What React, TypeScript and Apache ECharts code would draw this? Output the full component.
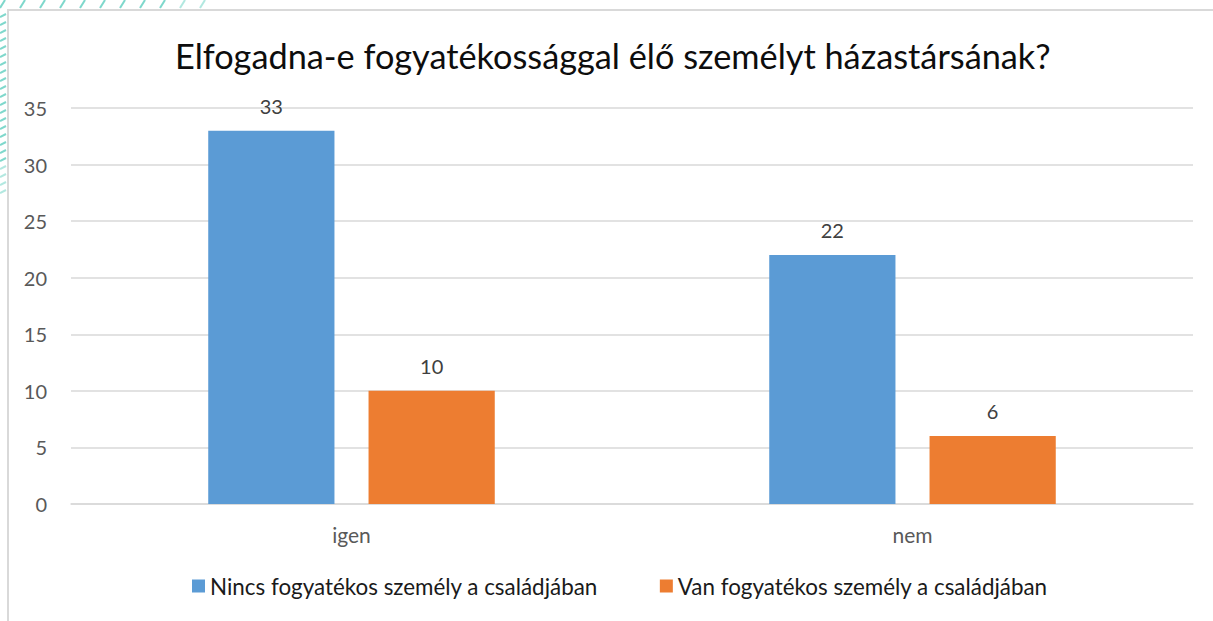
import React, { useEffect, useRef } from "react";
import * as echarts from "echarts";

const categories = ["igen", "nem"];
const seriesNames = [
  "Nincs fogyatékos személy a családjában",
  "Van fogyatékos személy a családjában",
];
const noDisabled = [33, 22];
const withDisabled = [10, 6];
const yTicks = { min: 0, max: 35, interval: 5 };
const titleText = "Elfogadna-e fogyatékossággal élő személyt házastársának?";

const FONT = "Lato, 'Noto Sans', sans-serif";

function buildHatch() {
  const els: any[] = [];
  const color = "#7fd8cc";
  for (let x = 0; x < 215; x += 20) {
    els.push({
      type: "line",
      shape: { x1: x, y1: 8, x2: x + 5, y2: 0 },
      style: { stroke: color, lineWidth: 2, opacity: x > 170 ? 0.6 : 1 },
      silent: true,
    });
  }
  for (let y = 14; y < 195; y += 8) {
    els.push({
      type: "line",
      shape: { x1: 0, y1: y + 3, x2: 6, y2: y },
      style: { stroke: color, lineWidth: 2, opacity: y > 160 ? 0.6 : 1 },
      silent: true,
    });
  }
  return els;
}

export default function App() {
  const ref = useRef<HTMLDivElement>(null);
  useEffect(() => {
    if (!ref.current) return;
    const chart = echarts.init(ref.current, undefined, { renderer: "svg" });
    const labelStyle = {
      show: true,
      position: "top" as const,
      distance: 15,
      fontSize: 20,
      color: "#404040",
      fontFamily: FONT,
    };
    chart.setOption({
      animation: false,
      backgroundColor: "#ffffff",
      title: {
        text: titleText,
        left: 170,
        top: 33,
        textStyle: {
          fontSize: 34.3,
          fontWeight: "normal",
          color: "#0d0d0d",
          fontFamily: FONT,
        },
      },
      graphic: [
        {
          type: "rect",
          shape: { x: 8, y: 10, width: 1220, height: 630 },
          style: { fill: "none", stroke: "#d9d9d9", lineWidth: 2 },
          silent: true,
          z: -1,
        },
        ...buildHatch(),
      ],
      legend: {
        bottom: 19,
        left: 187,
        itemWidth: 13,
        itemHeight: 13,
        itemGap: 62,
        icon: "rect",
        textStyle: { fontSize: 22.4, color: "#1a1a1a", fontFamily: FONT },
        data: seriesNames,
      },
      grid: { left: 71, right: 20, top: 108, bottom: 117, containLabel: false },
      xAxis: {
        type: "category",
        data: categories,
        axisLine: { lineStyle: { color: "#d9d9d9", width: 1.5 } },
        axisTick: { show: false },
        axisLabel: {
          fontSize: 21,
          color: "#595959",
          margin: 20,
          fontFamily: FONT,
        },
      },
      yAxis: {
        type: "value",
        min: yTicks.min,
        max: yTicks.max,
        interval: yTicks.interval,
        axisLine: { show: false },
        axisTick: { show: false },
        splitLine: { lineStyle: { color: "#d9d9d9", width: 1.5 } },
        axisLabel: {
          fontSize: 20,
          color: "#595959",
          margin: 24,
          fontFamily: FONT,
        },
      },
      series: [
        {
          name: seriesNames[0],
          type: "bar",
          data: noDisabled,
          barWidth: "22.5%",
          barGap: "27%",
          itemStyle: { color: "#5b9bd5" },
          label: labelStyle,
        },
        {
          name: seriesNames[1],
          type: "bar",
          data: withDisabled,
          barWidth: "22.5%",
          itemStyle: { color: "#ed7d31" },
          label: labelStyle,
        },
      ],
    });
    return () => chart.dispose();
  }, []);
  return (
    <div
      ref={ref}
      style={{ position: "fixed", left: 0, top: 0, width: 1213, height: 621 }}
    />
  );
}
